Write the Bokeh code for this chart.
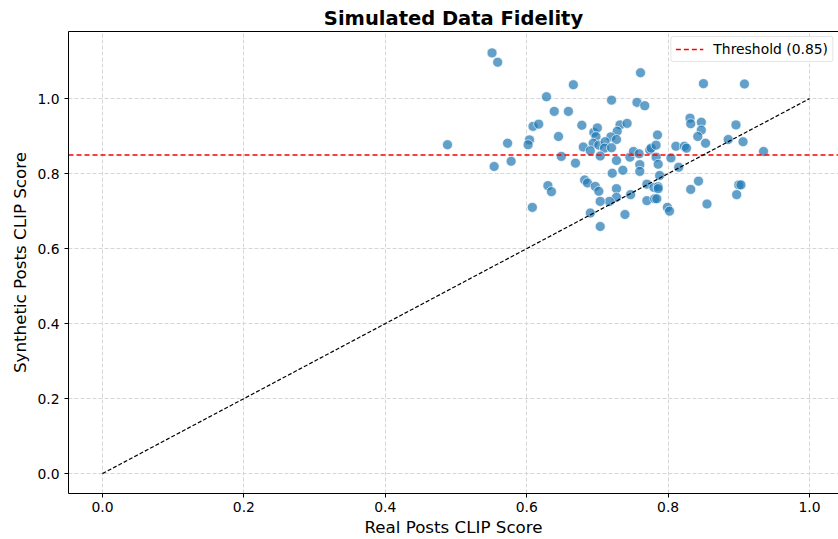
from bokeh.plotting import figure
from bokeh.models import (LinearAxis, FixedTicker, Range1d, PrintfTickFormatter,
                          Legend, LegendItem, ColumnDataSource)
from bokeh.embed import file_html
from bokeh.resources import INLINE

# ---------------- data ----------------
real_scores = [
    0.551, 0.559, 0.488, 0.666, 0.628, 0.720, 0.639, 0.659, 0.609, 0.617,
    0.678, 0.695, 0.700, 0.698, 0.732, 0.742, 0.728, 0.719, 0.727, 0.604,
    0.602, 0.573, 0.645, 0.694, 0.702, 0.711, 0.710, 0.720, 0.680, 0.690,
    0.704, 0.649, 0.578, 0.554, 0.669, 0.727, 0.736, 0.721, 0.746, 0.761,
    0.850, 0.908, 0.756, 0.767, 0.831, 0.847, 0.832, 0.896, 0.847, 0.842,
    0.885, 0.906, 0.853, 0.935, 0.785, 0.751, 0.759, 0.774, 0.776, 0.783,
    0.811, 0.823, 0.826, 0.783, 0.804, 0.760, 0.786, 0.815, 0.760, 0.788,
    0.630, 0.635, 0.682, 0.686, 0.697, 0.702, 0.727, 0.727, 0.717, 0.704,
    0.739, 0.690, 0.608, 0.704, 0.747, 0.843, 0.832, 0.900, 0.903, 0.897,
    0.855, 0.770, 0.780, 0.786, 0.770, 0.781, 0.784, 0.799, 0.802, 0.786,
]
synthetic_scores = [
    1.122, 1.097, 0.877, 1.037, 1.005, 0.996, 0.966, 0.966, 0.926, 0.932,
    0.929, 0.910, 0.922, 0.899, 0.930, 0.934, 0.913, 0.898, 0.891, 0.890,
    0.877, 0.881, 0.899, 0.881, 0.876, 0.885, 0.868, 0.869, 0.871, 0.861,
    0.847, 0.846, 0.833, 0.819, 0.828, 0.835, 0.809, 0.801, 0.844, 1.069,
    1.040, 1.039, 0.990, 0.981, 0.948, 0.937, 0.933, 0.930, 0.916, 0.899,
    0.891, 0.885, 0.881, 0.859, 0.903, 0.859, 0.853, 0.863, 0.868, 0.876,
    0.873, 0.873, 0.868, 0.844, 0.842, 0.824, 0.825, 0.817, 0.806, 0.795,
    0.768, 0.752, 0.783, 0.775, 0.766, 0.753, 0.760, 0.737, 0.726, 0.726,
    0.691, 0.695, 0.710, 0.659, 0.744, 0.780, 0.758, 0.770, 0.770, 0.744,
    0.719, 0.772, 0.763, 0.765, 0.728, 0.733, 0.733, 0.710, 0.700, 0.760,
]
threshold = 0.85
threshold_label = "Threshold (0.85)"
diag_x = [0.0, 1.0]
diag_y = [0.0, 1.0]
x_ticks = [0.0, 0.2, 0.4, 0.6, 0.8, 1.0]
y_ticks = [0.0, 0.2, 0.4, 0.6, 0.8, 1.0]
x_limits = (-0.048, 1.041)
y_limits = (-0.053, 1.179)

FONT = "DejaVu Sans"

p = figure(width=838, height=539, output_backend="svg", toolbar_location=None,
           x_range=Range1d(*x_limits), y_range=Range1d(*y_limits),
           title="Simulated Data Fidelity",
           min_border_left=68, min_border_right=0,
           min_border_top=31, min_border_bottom=46)

p.title.align = "center"
p.title.text_font = FONT
p.title.text_font_size = "19.5px"
p.title.text_font_style = "bold"
p.title.text_color = "black"
p.title.standoff = 4

p.outline_line_color = None
p.background_fill_color = "white"
p.border_fill_color = "white"

for ax in (p.xaxis[0], p.yaxis[0]):
    ax.axis_line_color = "black"
    ax.axis_line_width = 1
    ax.major_tick_line_color = "black"
    ax.major_tick_out = 4
    ax.major_tick_in = 0
    ax.minor_tick_line_color = None
    ax.major_label_text_font = FONT
    ax.major_label_text_font_size = "13.9px"
    ax.major_label_text_color = "black"
    ax.axis_label_text_font = FONT
    ax.axis_label_text_font_size = "16.7px"
    ax.axis_label_text_font_style = "normal"
    ax.axis_label_text_color = "black"
    ax.formatter = PrintfTickFormatter(format="%.1f")

p.xaxis[0].ticker = FixedTicker(ticks=x_ticks)
p.yaxis[0].ticker = FixedTicker(ticks=y_ticks)
p.xaxis[0].axis_label = "Real Posts CLIP Score"
p.yaxis[0].axis_label = "Synthetic Posts CLIP Score"
p.xaxis[0].major_label_standoff = 4
p.xaxis[0].axis_label_standoff = 2
p.yaxis[0].major_label_standoff = 5
p.yaxis[0].axis_label_standoff = 4

# top spine (no ticks)
top = LinearAxis(ticker=FixedTicker(ticks=[]), axis_line_color="black",
                 major_tick_line_color=None, minor_tick_line_color=None,
                 major_label_text_font_size="0px")
p.add_layout(top, "above")

for g in (p.xgrid[0], p.ygrid[0]):
    g.grid_line_color = "#d6d6d6"
    g.grid_line_dash = "4 2"
    g.grid_line_width = 1
p.xgrid[0].ticker = FixedTicker(ticks=x_ticks)
p.ygrid[0].ticker = FixedTicker(ticks=y_ticks)

src = ColumnDataSource(dict(x=real_scores, y=synthetic_scores))
p.scatter("x", "y", source=src, size=10, fill_color="#1f77b4", fill_alpha=0.7,
          line_color="white", line_alpha=0.8, line_width=0.8)

thr = p.line(x=list(x_limits), y=[threshold, threshold], line_color="red",
             line_width=1.5, line_dash="5 3")
p.line(x=diag_x, y=diag_y, line_color="black", line_width=1.2, line_dash="4 2")

legend = Legend(items=[LegendItem(label=threshold_label, renderers=[thr])],
                location="top_right")
legend.label_text_font = FONT
legend.label_text_font_size = "13.9px"
legend.label_text_color = "black"
legend.border_line_color = "#cccccc"
legend.background_fill_alpha = 0.85
legend.border_radius = 3
legend.margin = 5
legend.padding = 4
legend.glyph_width = 28
legend.glyph_height = 14
legend.label_standoff = 10
p.add_layout(legend, "center")

open("out.html", "w").write(file_html(p, INLINE))
